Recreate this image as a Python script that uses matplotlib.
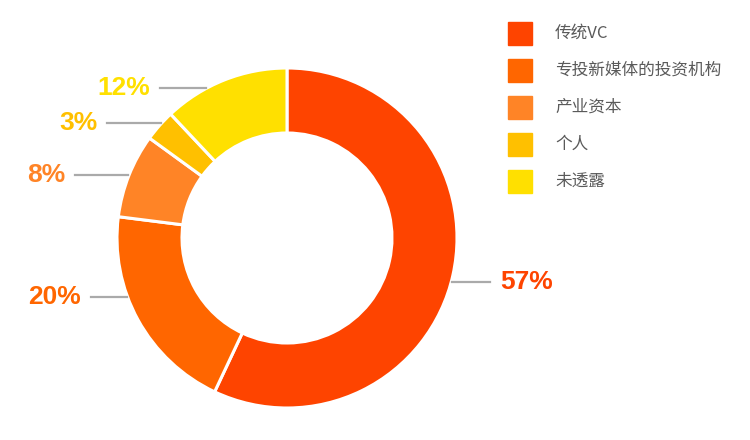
import matplotlib.pyplot as plt
import numpy as np

plt.rcParams['font.family'] = ['Noto Sans CJK SC', 'DejaVu Sans']

categories = ["传统VC", "专投新媒体的投资机构", "产业资本", "个人", "未透露"]
values = [57, 20, 8, 3, 12]
labels = ["57%", "20%", "8%", "3%", "12%"]
colors = ["#fe4400", "#ff6600", "#ff8426", "#ffc000", "#ffe000"]

# layout in pixels (figure is 750x440)
W, H = 750, 440
cx, cy = 287, H - 238
R = 170
ring = 65
nudge = [-7, 23, 0, 3, -8]          # vertical label nudge, px (up positive)
line_len = [38, 36, 53, 54, 46]

fig = plt.figure(figsize=(7.5, 4.4), dpi=100)
ax = fig.add_axes([0, 0, 1, 1])

wedges, _ = ax.pie(values, colors=colors, startangle=90, counterclock=False,
                   center=(cx, cy), radius=R,
                   wedgeprops=dict(width=ring, edgecolor="white", linewidth=2.2))
ax.set_xlim(0, W)
ax.set_ylim(0, H)
ax.set_aspect("auto")
ax.axis("off")

for i, w in enumerate(wedges):
    mid = np.deg2rad((w.theta1 + w.theta2) / 2)
    y = cy + R * np.sin(mid) + nudge[i]
    dx = np.sqrt(max(R ** 2 - (y - cy) ** 2, 0))
    side = 1 if np.cos(mid) > 0 else -1
    x0 = cx + side * (dx + 1)
    x1 = x0 + side * line_len[i]
    ax.plot([x0, x1], [y, y], color="#aaaaaa", lw=1.6)
    ax.text(x1 + side * 10, y, labels[i], color=colors[i], fontsize=19,
            fontweight="bold", family=["Liberation Sans", "DejaVu Sans"],
            ha="left" if side > 0 else "right", va="center")

# legend
for i, (cat, c) in enumerate(zip(categories, colors)):
    ly = H - 33.5 - i * 37
    ax.add_patch(plt.Rectangle((508, ly - 11.5), 24, 23, color=c))
    ax.text(555, ly, cat, fontsize=12, color="#5a5a5a", va="center", ha="left")

fig.savefig("out.png", dpi=100)
